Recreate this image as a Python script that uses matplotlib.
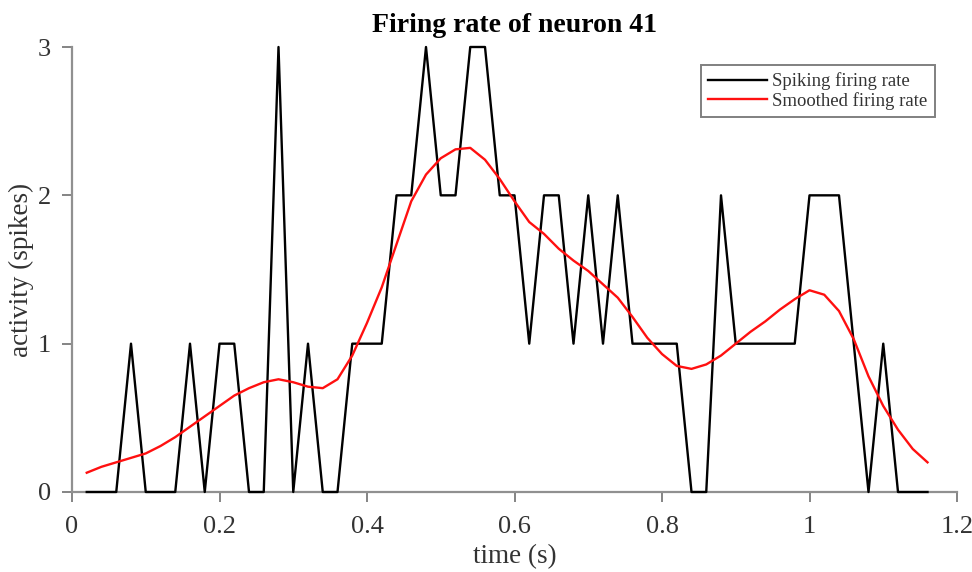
import matplotlib
matplotlib.use("Agg")
import matplotlib.pyplot as plt
import numpy as np

# time bins (s), 20 ms apart
t = np.round(np.arange(1, 59) * 0.02, 2)

spikes = [0, 0, 0, 1, 0, 0, 0, 1, 0, 1,
          1, 0, 0, 3, 0, 1, 0, 0, 1, 1,
          1, 2, 2, 3, 2, 2, 3, 3, 2, 2,
          1, 2, 2, 1, 2, 1, 2, 1, 1, 1,
          1, 0, 0, 2, 1, 1, 1, 1, 1, 2,
          2, 2, 1, 0, 1, 0, 0, 0]

smooth = [0.13, 0.17, 0.20, 0.23, 0.26, 0.31, 0.37, 0.44, 0.51, 0.58,
          0.65, 0.70, 0.74, 0.76, 0.74, 0.71, 0.70, 0.76, 0.92, 1.14,
          1.38, 1.67, 1.96, 2.14, 2.25, 2.31, 2.32, 2.24, 2.11, 1.96,
          1.82, 1.74, 1.64, 1.56, 1.49, 1.40, 1.31, 1.18, 1.04, 0.93,
          0.85, 0.83, 0.86, 0.92, 1.00, 1.08, 1.15, 1.23, 1.30, 1.36,
          1.33, 1.22, 1.03, 0.78, 0.58, 0.42, 0.29, 0.20]

plt.rcParams['font.family'] = ['Liberation Serif', 'DejaVu Serif']

fig = plt.figure(figsize=(9.72, 5.72), dpi=100)
ax = fig.add_axes([72/972, 80/572, 885/972, 445/572])

ax.plot(t, spikes, color='black', lw=1.7, label='Spiking firing rate',
        clip_on=False, zorder=3)
ax.plot(t, smooth, color='#ff1010', lw=1.7, label='Smoothed firing rate',
        clip_on=False, zorder=4)

ax.set_xlim(0, 1.2)
ax.set_ylim(0, 3)
ax.set_xticks([0, 0.2, 0.4, 0.6, 0.8, 1, 1.2])
ax.set_xticklabels(['0', '0.2', '0.4', '0.6', '0.8', '1', '1.2'])
ax.set_yticks([0, 1, 2, 3])

for s in ['top', 'right']:
    ax.spines[s].set_visible(False)
for s in ['left', 'bottom']:
    ax.spines[s].set_color('#909090')
    ax.spines[s].set_linewidth(1.6)
ax.tick_params(direction='out', length=7, width=1.2, color='#707070',
               labelsize=19, labelcolor='#333333')
ax.tick_params(axis='x', pad=10)
ax.tick_params(axis='y', pad=8)

ax.set_xlabel('time (s)', fontsize=19.5, color='#333333', labelpad=5)
ax.set_ylabel('activity (spikes)', fontsize=19.5, color='#333333', labelpad=3)
ax.set_title('Firing rate of neuron 41', fontsize=20, fontweight='bold', pad=11)

leg = ax.legend(loc='upper right', bbox_to_anchor=(0.975, 0.96), borderaxespad=0,
                fontsize=13.5, handlelength=3.1, fancybox=False, framealpha=1,
                edgecolor='#808080', borderpad=0.4, labelspacing=0.08,
                handletextpad=0.3)
leg.get_frame().set_linewidth(1.4)
for txt in leg.get_texts():
    txt.set_color('#333333')

fig.savefig('out.png', dpi=100)
